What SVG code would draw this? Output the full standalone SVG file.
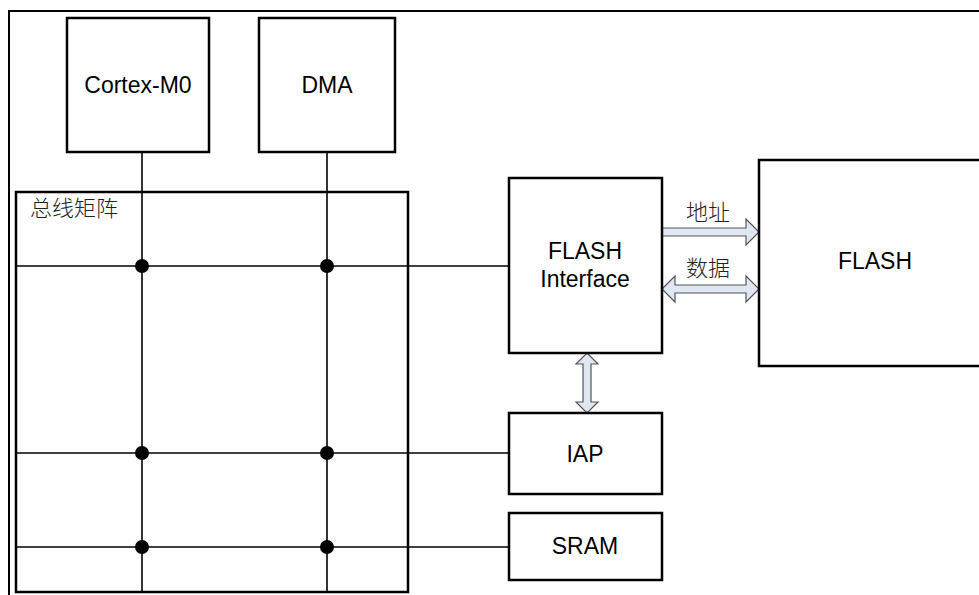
<svg xmlns="http://www.w3.org/2000/svg" width="979" height="595" viewBox="0 0 979 595">
<style>
.box{fill:#fff;stroke:#000;stroke-width:2.5}
.ln{stroke:#000;stroke-width:1.6;fill:none}
.lbl{font-family:"Liberation Sans",Arial,sans-serif;font-size:23px;fill:#000;text-anchor:middle}
.cjk{font-family:"Noto Sans CJK SC","Liberation Sans",sans-serif;font-size:22px;fill:#222;font-weight:300}
.arr{fill:#dfe7f3;stroke:#555;stroke-width:1.2}
.dot{fill:#000}
</style>
<rect x="0" y="0" width="979" height="595" fill="#fff"/>
<rect id="frame" x="9" y="11" width="1000" height="600" fill="none" stroke="#000" stroke-width="2"/>
<g id="bus-matrix">
<rect class="box" x="16" y="192" width="392" height="400"/>
<text class="cjk" x="30" y="216">总线矩阵</text>
</g>
<g id="connectors">
<line class="ln" x1="142" y1="152" x2="142" y2="592"/>
<line class="ln" x1="327" y1="152" x2="327" y2="592"/>
<line class="ln" x1="16" y1="266" x2="509" y2="266"/>
<line class="ln" x1="16" y1="453" x2="509" y2="453"/>
<line class="ln" x1="16" y1="547" x2="509" y2="547"/>
<circle class="dot" cx="142" cy="266" r="7"/>
<circle class="dot" cx="327" cy="266" r="7"/>
<circle class="dot" cx="142" cy="453" r="7"/>
<circle class="dot" cx="327" cy="453" r="7"/>
<circle class="dot" cx="142" cy="547" r="7"/>
<circle class="dot" cx="327" cy="547" r="7"/>
<polygon id="addr-arrow" class="arr" points="662,228 746,228 746,219 759,232 746,245 746,236 662,236"/>
<polygon id="data-arrow" class="arr" points="662,289 675,276 675,285 746,285 746,276 759,289 746,302 746,293 675,293 675,302"/>
<polygon id="iap-arrow" class="arr" points="587,353 598,364 591,364 591,402 598,402 587,413 576,402 583,402 583,364 576,364"/>
<text class="cjk" x="686" y="220">地址</text>
<text class="cjk" x="686" y="276">数据</text>
</g>
<g id="cortex-m0">
<rect class="box" x="67" y="18" width="142" height="134"/>
<text class="lbl" x="138" y="93">Cortex-M0</text>
</g>
<g id="dma">
<rect class="box" x="259" y="18" width="136" height="134"/>
<text class="lbl" x="327" y="93">DMA</text>
</g>
<g id="flash-interface">
<rect class="box" x="509" y="178" width="153" height="175"/>
<text class="lbl" x="585" y="259">FLASH</text>
<text class="lbl" x="585" y="287">Interface</text>
</g>
<g id="iap">
<rect class="box" x="509" y="413" width="153" height="81"/>
<text class="lbl" x="585" y="462">IAP</text>
</g>
<g id="sram">
<rect class="box" x="509" y="513" width="153" height="67"/>
<text class="lbl" x="585" y="554">SRAM</text>
</g>
<g id="flash">
<rect class="box" x="759" y="160" width="240" height="206"/>
<text class="lbl" x="875" y="269">FLASH</text>
</g>
</svg>
